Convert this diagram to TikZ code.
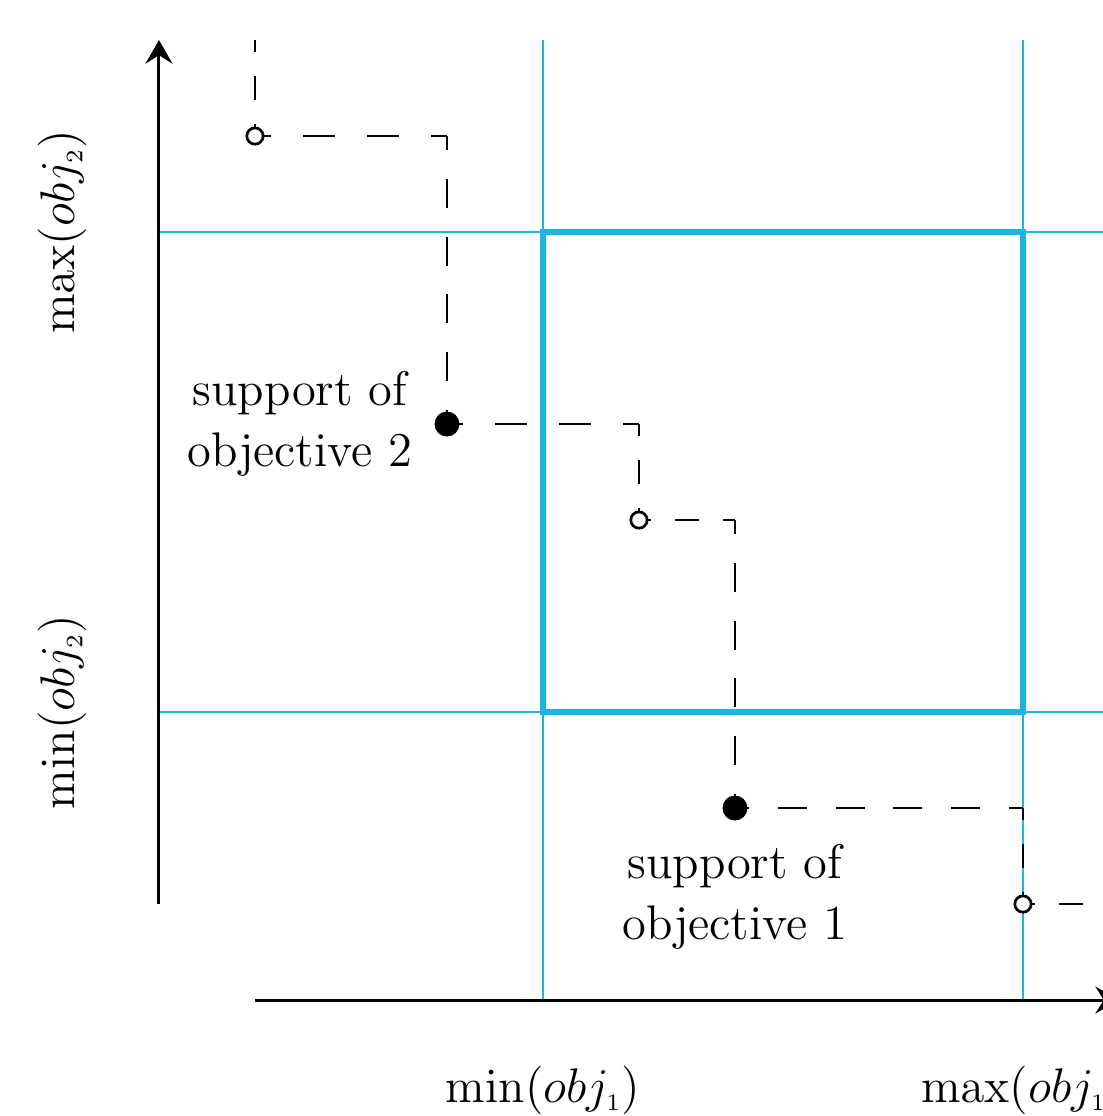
\documentclass[tikz,border=0pt]{standalone}
\usepackage{amsmath}
\usetikzlibrary{arrows.meta,positioning}
\definecolor{boxblue}{RGB}{27,181,228}
\tikzset{
  axis/.style={line width=0.9pt,-{Stealth[length=7pt,width=8pt,inset=2.5pt]}},
  gridline/.style={boxblue,line width=0.8pt},
  boxline/.style={boxblue,line width=1.9pt},
  stairone/.style={line width=0.8pt,dash pattern=on 0.25cm off 0.25cm,dash phase=0.125cm},
  stairtwo/.style={line width=0.8pt,dash pattern=on 0.3333cm off 0.3333cm,dash phase=0.1667cm},
  stairthree/.style={line width=0.8pt,dash pattern=on 0.3cm off 0.3cm,dash phase=0.15cm},
  hollowpt/.style={circle,draw,fill=white,line width=0.8pt,inner sep=0pt,minimum size=0.17cm},
  solidpt/.style={circle,fill=black,inner sep=0pt,minimum size=0.26cm},
  lbl/.style={font=\Large,align=center},
}
\begin{document}
\begin{tikzpicture}

\clip (-1.656,-1.208) rectangle (9.833,10.417) ;

\draw [gridline] (4,0) -- (4,10) ;
\draw [gridline] (9,0) -- (9,10) ;
\draw [gridline] (0,3) -- (10,3) ;
\draw [gridline] (0,8) -- (10,8) ;
\draw [boxline] (4,3) rectangle (9,8) ;

\draw [axis] (1,0) -- (10,0) ;
\draw [axis] (0,1) -- (0,10) ;

\coordinate (top) at (1,10) ;
\coordinate (p1) at (1,9) ;
\coordinate (k1) at (3,9) ;
\coordinate (s2) at (3,6) ;
\coordinate (k2) at (5,6) ;
\coordinate (p2) at (5,5) ;
\coordinate (k3) at (6,5) ;
\coordinate (s1) at (6,2) ;
\coordinate (k4) at (9,2) ;
\coordinate (p3) at (9,1) ;
\coordinate (rgt) at (10,1) ;

\draw [stairone] (top) -- (p1) ;
\draw [stairtwo] (p1) -- (k1) ;
\draw [stairthree] (k1) -- (s2) ;
\draw [stairtwo] (s2) -- (k2) ;
\draw [stairone] (k2) -- (p2) ;
\draw [stairone] (p2) -- (k3) ;
\draw [stairthree] (k3) -- (s1) ;
\draw [stairthree] (s1) -- (k4) ;
\draw [stairone] (k4) -- (p3) ;
\draw [stairone] (p3) -- (rgt) ;

\node [hollowpt] (dot1) at (p1) {} ;
\node [hollowpt] (dot2) at (p2) {} ;
\node [hollowpt] (dot3) at (p3) {} ;
\node [solidpt] (sup2) at (s2) {} ;
\node [solidpt] (sup1) at (s1) {} ;

\node [lbl, left=0.1cm of sup2] (txt2) {support of\\objective 2} ;
\node [lbl, below=0.12cm of sup1] (txt1) {support of\\objective 1} ;

\node [lbl, rotate=90, anchor=base] (ymax) at (-0.875,8) {$\max(obj_{\scriptscriptstyle 2})$} ;
\node [lbl, rotate=90, anchor=base] (ymin) at (-0.875,3) {$\min(obj_{\scriptscriptstyle 2})$} ;
\node [lbl, anchor=base] (xmin) at (4,-1.07) {$\min(obj_{\scriptscriptstyle 1})$} ;
\node [lbl, anchor=base] (xmax) at (9,-1.07) {$\max(obj_{\scriptscriptstyle 1})$} ;
\end{tikzpicture}
\end{document}
